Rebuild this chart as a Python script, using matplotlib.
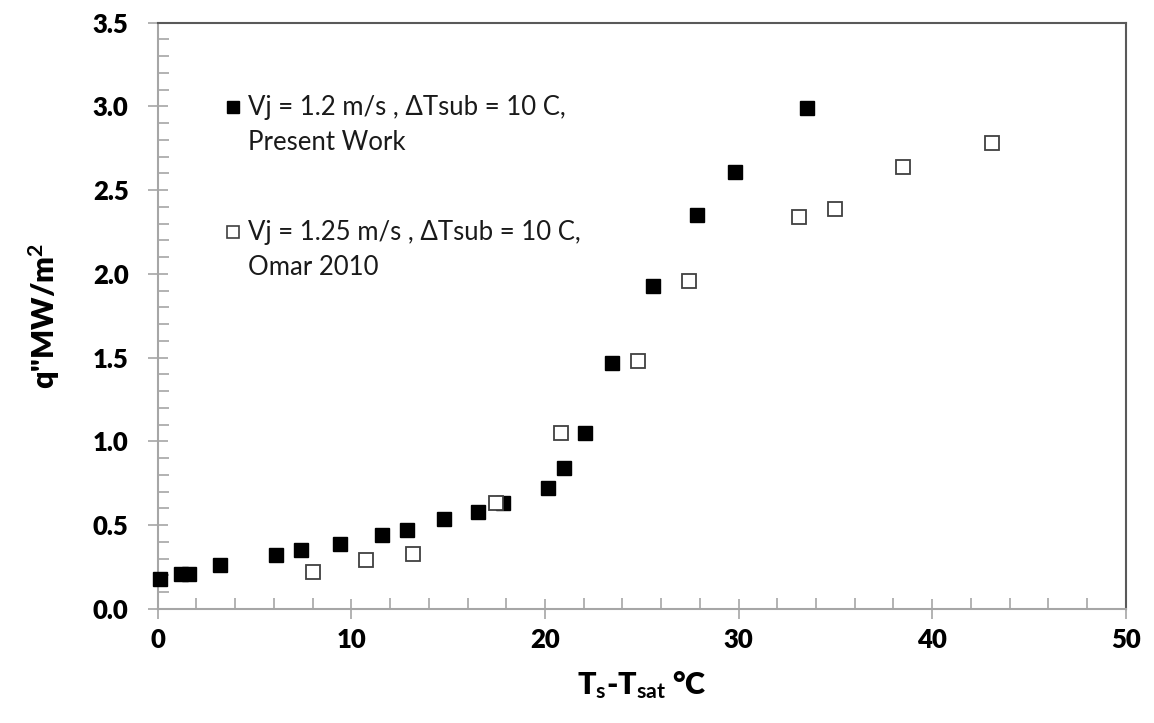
import matplotlib.pyplot as plt
from matplotlib.ticker import MultipleLocator

# --- data ---
# Present work, Vj = 1.2 m/s
x_present = [0.1, 1.2, 1.6, 3.2, 6.1, 7.4, 9.4, 11.6, 12.85, 14.8, 16.55, 17.85,
             20.15, 21.0, 22.05, 23.45, 25.6, 27.85, 29.8, 33.55]
y_present = [0.18, 0.21, 0.21, 0.26, 0.32, 0.35, 0.39, 0.44, 0.47, 0.54, 0.58, 0.63,
             0.72, 0.84, 1.05, 1.47, 1.93, 2.35, 2.61, 2.99]

# Omar 2010, Vj = 1.25 m/s
x_omar = [8.0, 10.75, 13.2, 17.45, 20.85, 24.8, 27.45, 33.1, 35.0, 38.5, 43.1]
y_omar = [0.22, 0.29, 0.33, 0.63, 1.05, 1.48, 1.96, 2.34, 2.39, 2.64, 2.78]

legend_lines = [["Vj = 1.2 m/s , \u0394Tsub = 10 C,", "Present Work"],
                ["Vj = 1.25 m/s , \u0394Tsub = 10 C,", "Omar 2010"]]

plt.rcParams['font.family'] = ['Lato', 'DejaVu Sans']
plt.rcParams['mathtext.fontset'] = 'custom'
plt.rcParams['mathtext.rm'] = 'Lato:bold'
plt.rcParams['mathtext.it'] = 'Lato:bold'
plt.rcParams['mathtext.bf'] = 'Lato:bold'

fig = plt.figure(figsize=(11.54, 7.23), dpi=100)
ax = fig.add_axes([0.1367, 0.1577, 0.8388, 0.8109])

ax.plot(x_present, y_present, linestyle='none', marker='s', markersize=10.5,
        markerfacecolor='black', markeredgecolor='black', clip_on=False, zorder=3)
ax.plot(x_omar, y_omar, linestyle='none', marker='s', markersize=9.5,
        markerfacecolor='white', markeredgecolor='#404040', markeredgewidth=1.3,
        clip_on=False, zorder=3)

ax.set_xlim(0, 50)
ax.set_ylim(0, 3.5)
ax.xaxis.set_major_locator(MultipleLocator(10))
ax.xaxis.set_minor_locator(MultipleLocator(2))
ax.yaxis.set_major_locator(MultipleLocator(0.5))
ax.yaxis.set_minor_locator(MultipleLocator(0.1))
ax.yaxis.set_major_formatter(plt.FormatStrFormatter('%.1f'))

ax.tick_params(which='major', direction='inout', length=14, width=1.2, color='#a6a6a6',
               labelsize=18.5, pad=7)
ax.tick_params(axis='y', which='major', pad=14)
ax.tick_params(which='minor', direction='in', length=8, width=1.2, color='#a6a6a6')
for lab in ax.get_xticklabels() + ax.get_yticklabels():
    lab.set_fontweight('heavy')

for side in ['left', 'bottom']:
    ax.spines[side].set_color('#a6a6a6')
    ax.spines[side].set_linewidth(1.5)
for side in ['top', 'right']:
    ax.spines[side].set_color('#595959')
    ax.spines[side].set_linewidth(1.5)

ax.set_xlabel(r'T$_{s}$-T$_{sat}$ °C', fontsize=22, fontweight='heavy', labelpad=12)
ax.set_ylabel(r'q"MW/m$^{2}$', fontsize=22, fontweight='heavy', labelpad=22)

# legend drawn as in the spreadsheet: key beside the first line of each entry
key_x, text_x = 0.0778, 0.0933
entry_y = [0.856, 0.643]
line_gap = 0.060
ax.plot([key_x], [entry_y[0]], transform=ax.transAxes, linestyle='none', marker='s',
        markersize=8.5, markerfacecolor='black', markeredgecolor='black')
ax.plot([key_x], [entry_y[1]], transform=ax.transAxes, linestyle='none', marker='s',
        markersize=8.5, markerfacecolor='white', markeredgecolor='#404040',
        markeredgewidth=1.2)
for lines, y0 in zip(legend_lines, entry_y):
    for i, txt in enumerate(lines):
        ax.text(text_x, y0 - i * line_gap, txt, transform=ax.transAxes, fontsize=18.5,
                va='center', ha='left', color='#1a1a1a')

fig.savefig('out.png', dpi=100)
